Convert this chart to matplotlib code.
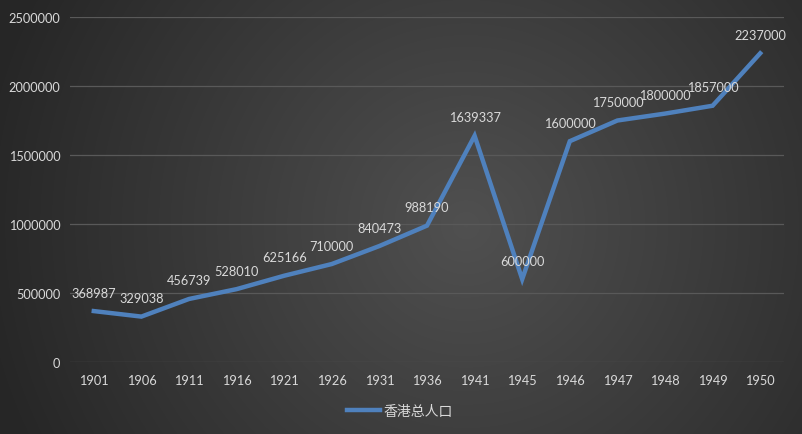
import numpy as np
import matplotlib
matplotlib.use("Agg")
import matplotlib.pyplot as plt
from matplotlib.colors import LinearSegmentedColormap

years = ["1901", "1906", "1911", "1916", "1921", "1926", "1931", "1936",
         "1941", "1945", "1946", "1947", "1948", "1949", "1950"]
population = [368987, 329038, 456739, 528010, 625166, 710000, 840473, 988190,
              1639337, 600000, 1600000, 1750000, 1800000, 1857000, 2237000]
series_name = "香港总人口"
y_ticks = [0, 500000, 1000000, 1500000, 2000000, 2500000]

W, H = 803, 435
fig = plt.figure(figsize=(W / 100, H / 100), dpi=100)

# radial gradient background
bg = fig.add_axes([0, 0, 1, 1], zorder=0)
yy, xx = np.mgrid[0:H, 0:W]
cx, cy = 0.58 * W, 0.52 * H
r = np.sqrt(((xx - cx) / (0.62 * W)) ** 2 + ((yy - cy) / (0.62 * W)) ** 2)
r = np.clip(r, 0, 1)
cmap = LinearSegmentedColormap.from_list("g", ["#505050", "#262626"])
bg.imshow(r, cmap=cmap, aspect="auto", extent=[0, 1, 0, 1], vmin=0, vmax=1)
bg.axis("off")

ax = fig.add_axes([70 / W, 1 - 363 / H, (784 - 70) / W, (363 - 18) / H], zorder=1)
ax.patch.set_alpha(0)

font = "Lato"
txt_color = "#d9d9d9"
line_color = "#4f81bd"

x = np.arange(len(years))
ax.plot(x, population, color=line_color, lw=3.2, solid_joinstyle="miter",
        label=series_name, zorder=3)

for xi, v in zip(x, population):
    ax.annotate(str(v), (xi, v), xytext=(0, 9), textcoords="offset points",
                ha="center", va="bottom", color=txt_color, fontsize=9.2,
                family=font, zorder=4)

ax.set_xlim(-0.5, len(years) - 0.5)
ax.set_ylim(0, 2500000)
ax.set_yticks(y_ticks)
ax.set_yticklabels([str(t) for t in y_ticks], family=font, fontsize=9.2, color=txt_color)
ax.set_xticks(x)
ax.set_xticklabels(years, family=font, fontsize=9.2, color=txt_color)
ax.tick_params(length=0, pad=7)
ax.tick_params(axis="x", pad=9)
for s in ax.spines.values():
    s.set_visible(False)
ax.grid(axis="y", color="#595959", lw=0.9)
ax.set_axisbelow(True)

leg = fig.legend(loc="center", bbox_to_anchor=(400 / W, 1 - 412 / H), frameon=False,
                 prop={"family": ["Noto Sans CJK SC", "DejaVu Sans"], "size": 10},
                 handlelength=2.4, handletextpad=0.25)
for t in leg.get_texts():
    t.set_color(txt_color)

fig.savefig("out.png", dpi=100)
